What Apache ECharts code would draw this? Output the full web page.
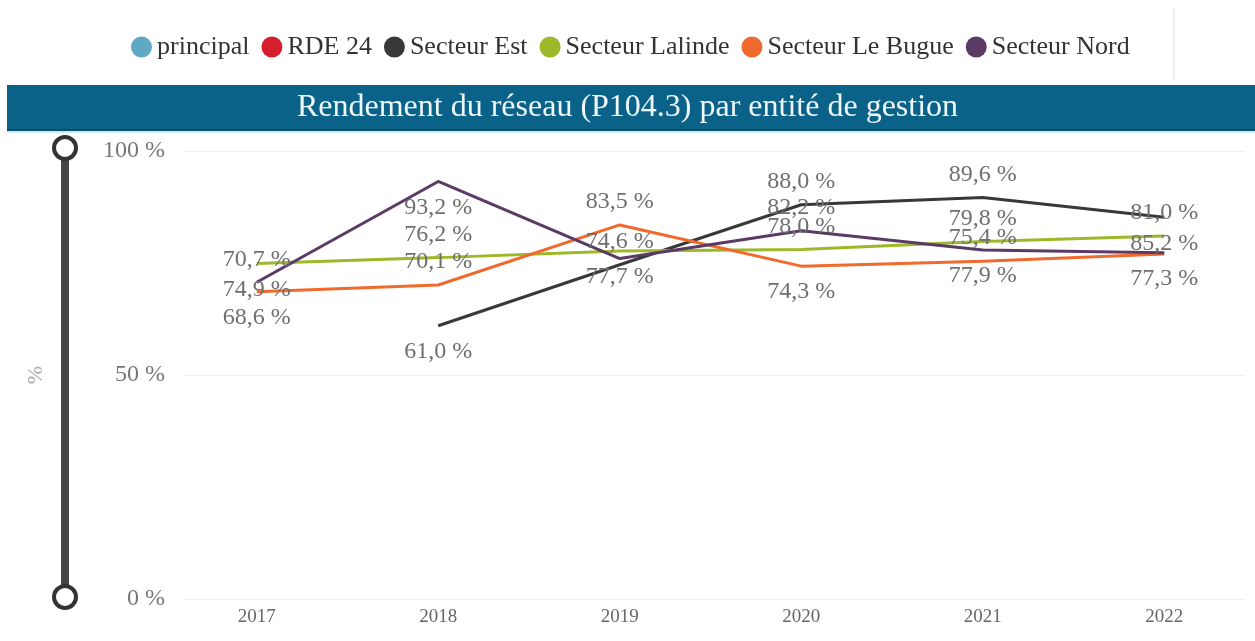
<!DOCTYPE html>
<html>
<head>
<meta charset="utf-8">
<script src="https://cdn.jsdelivr.net/npm/echarts@6/dist/echarts.min.js"></script>
<style>
  html, body { margin: 0; padding: 0; background: #fff; }
  #chart { width: 1255px; height: 641px; }
</style>
</head>
<body>
<div id="chart"></div>
<script>
// Rendement du réseau (P104.3), en %, par entité de gestion
const years = ['2017', '2018', '2019', '2020', '2021', '2022'];
const principal = [];
const rde24 = [];
const secteurEst = [null, 61.0, 74.6, 88.0, 89.6, 85.2];
const secteurLalinde = [74.9, 76.2, 77.7, 78.0, 79.8, 81.0];
const secteurLeBugue = [68.6, 70.1, 83.5, 74.3, 75.4, 77.0];
const secteurNord = [70.7, 93.2, 76.0, 82.2, 77.9, 77.3];
const yTicks = [0, 50, 100];

// where each value label sits: 't' above, 'b' below, '' hidden
const labelSides = {
  'Secteur Est':      ['', 'b', 't', 't', 't', 'b'],
  'Secteur Lalinde':  ['b', 't', 'b', 't', 't', 't'],
  'Secteur Le Bugue': ['b', 't', 't', 'b', 't', ''],
  'Secteur Nord':     ['t', 'b', '', 't', 'b', 'b']
};

const serif = '"Liberation Serif", "DejaVu Serif", serif';
const fmtPct = v => v.toFixed(1).replace('.', ',') + ' %';

function lineSeries(name, values, color) {
  const sides = labelSides[name] || [];
  return {
    name: name,
    type: 'line',
    xAxisIndex: 0,
    yAxisIndex: 0,
    color: color,
    symbol: 'circle',
    symbolSize: 0.1,
    showSymbol: true,
    lineStyle: { width: 3, color: color },
    itemStyle: { color: color },
    emphasis: { disabled: true },
    data: values.map((v, i) => {
      const side = sides[i];
      return {
        value: v,
        label: {
          show: v != null && !!side,
          position: side === 'b' ? 'bottom' : 'top',
          distance: side === 'b' ? 14 : 11
        }
      };
    }),
    label: {
      formatter: p => fmtPct(p.value),
      color: '#6f6f6f',
      fontFamily: serif,
      fontSize: 24
    }
  };
}

const chart = echarts.init(document.getElementById('chart'), null, { renderer: 'canvas' });

chart.setOption({
  animation: false,
  backgroundColor: '#ffffff',
  legend: {
    left: 126,
    top: 29,
    itemWidth: 21,
    itemHeight: 21,
    itemGap: 12,
    icon: 'circle',
    textStyle: { color: '#333333', fontFamily: serif, fontSize: 26 },
    data: ['principal', 'RDE 24', 'Secteur Est', 'Secteur Lalinde', 'Secteur Le Bugue', 'Secteur Nord']
  },
  graphic: [
    // legend frame separator
    { type: 'line', shape: { x1: 1174, y1: 8, x2: 1174, y2: 80 }, style: { stroke: '#dddddd', lineWidth: 1 } },
    // title band
    { type: 'rect', shape: { x: 7, y: 85, width: 1248, height: 46 }, style: { fill: '#0b6289' } },
    { type: 'rect', shape: { x: 7, y: 129, width: 1248, height: 2 }, style: { fill: '#0a4d6c' } },
    { type: 'rect', shape: { x: 7, y: 131, width: 1248, height: 2 }, style: { fill: '#cdebf2' } },
    {
      type: 'text', left: 'center', top: 92,
      style: {
        text: 'Rendement du réseau (P104.3) par entité de gestion',
        fill: '#eef7fa', font: '32px ' + serif
      }
    },
    // vertical range handle
    { type: 'line', shape: { x1: 65, y1: 158, x2: 65, y2: 588 }, style: { stroke: '#454545', lineWidth: 8 } },
    { type: 'circle', shape: { cx: 65, cy: 148, r: 11 }, style: { fill: '#ffffff', stroke: '#333333', lineWidth: 4 } },
    { type: 'circle', shape: { cx: 65, cy: 597, r: 11 }, style: { fill: '#ffffff', stroke: '#333333', lineWidth: 4 } }
  ],
  grid: [
    { left: 166, width: 1097, top: 151, bottom: 42, containLabel: false },
    { left: 185, right: 10, top: 151, bottom: 42, containLabel: false }
  ],
  xAxis: [
    {
      type: 'category',
      gridIndex: 0,
      data: years,
      boundaryGap: true,
      axisLine: { show: false },
      axisTick: { show: false },
      splitLine: { show: false },
      axisLabel: { color: '#666666', fontFamily: serif, fontSize: 19, margin: 9 }
    },
    { type: 'value', gridIndex: 1, show: false, min: 0, max: 1 }
  ],
  yAxis: [
    { type: 'value', gridIndex: 0, min: 0, max: 100, show: false },
    {
      type: 'value',
      gridIndex: 1,
      min: yTicks[0],
      max: yTicks[yTicks.length - 1],
      interval: yTicks[1] - yTicks[0],
      name: '%',
      nameLocation: 'middle',
      nameGap: 138,
      nameTextStyle: { color: '#aaaaaa', fontFamily: serif, fontSize: 22 },
      axisLine: { show: false },
      axisTick: { show: false },
      splitLine: { lineStyle: { color: '#efefef', width: 1 } },
      axisLabel: {
        color: '#777777', fontFamily: serif, fontSize: 24, margin: 20,
        formatter: v => v + ' %'
      }
    }
  ],
  series: [
    lineSeries('principal', principal, '#5fa9c4'),
    lineSeries('RDE 24', rde24, '#d61f2d'),
    lineSeries('Secteur Est', secteurEst, '#383838'),
    lineSeries('Secteur Lalinde', secteurLalinde, '#9db828'),
    lineSeries('Secteur Le Bugue', secteurLeBugue, '#f06a2e'),
    lineSeries('Secteur Nord', secteurNord, '#5b3a66')
  ]
});
</script>
</body>
</html>
